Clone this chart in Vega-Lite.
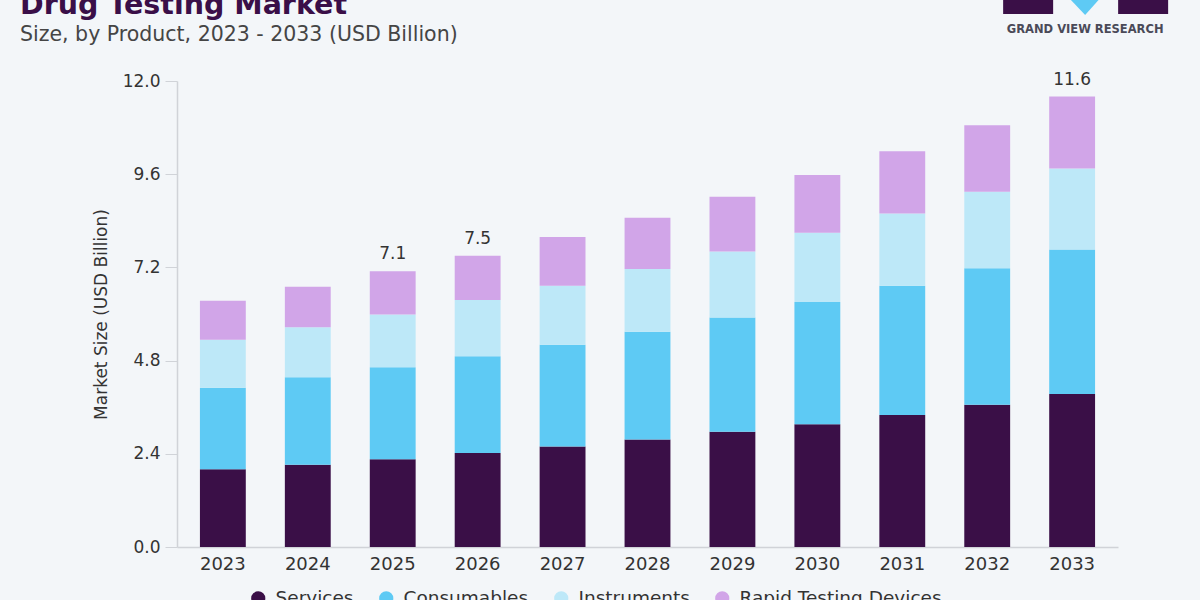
{
  "$schema": "https://vega.github.io/schema/vega-lite/v6.json",
  "width": 941,
  "height": 466,
  "autosize": {"type": "none"},
  "padding": {"left": 177, "top": 81, "right": 82, "bottom": 53},
  "background": "#f3f6f9",
  "title": {
    "text": "Drug Testing Market",
    "subtitle": "Size, by Product, 2023 - 2033 (USD Billion)",
    "anchor": "start",
    "frame": "group",
    "dx": -157,
    "offset": -56,
    "font": "DejaVu Sans",
    "fontSize": 28.5,
    "fontWeight": "bold",
    "color": "#3a0f48",
    "subtitleFont": "DejaVu Sans",
    "subtitleFontSize": 20.5,
    "subtitleColor": "#454545",
    "subtitlePadding": 6
  },
  "config": {
    "view": {"stroke": null},
    "font": "DejaVu Sans",
    "axis": {"grid": false, "labelFont": "DejaVu Sans", "titleFont": "DejaVu Sans"},
    "legend": {"labelFont": "DejaVu Sans"}
  },
  "data": {
    "values": [
      {"year": "2023", "product": "Services", "value": 2.00},
      {"year": "2023", "product": "Consumables", "value": 2.10},
      {"year": "2023", "product": "Instruments", "value": 1.24},
      {"year": "2023", "product": "Rapid Testing Devices", "value": 1.00},
      {"year": "2024", "product": "Services", "value": 2.12},
      {"year": "2024", "product": "Consumables", "value": 2.25},
      {"year": "2024", "product": "Instruments", "value": 1.29},
      {"year": "2024", "product": "Rapid Testing Devices", "value": 1.04},
      {"year": "2025", "product": "Services", "value": 2.26},
      {"year": "2025", "product": "Consumables", "value": 2.37},
      {"year": "2025", "product": "Instruments", "value": 1.36},
      {"year": "2025", "product": "Rapid Testing Devices", "value": 1.11},
      {"year": "2026", "product": "Services", "value": 2.42},
      {"year": "2026", "product": "Consumables", "value": 2.49},
      {"year": "2026", "product": "Instruments", "value": 1.45},
      {"year": "2026", "product": "Rapid Testing Devices", "value": 1.14},
      {"year": "2027", "product": "Services", "value": 2.59},
      {"year": "2027", "product": "Consumables", "value": 2.62},
      {"year": "2027", "product": "Instruments", "value": 1.52},
      {"year": "2027", "product": "Rapid Testing Devices", "value": 1.25},
      {"year": "2028", "product": "Services", "value": 2.77},
      {"year": "2028", "product": "Consumables", "value": 2.77},
      {"year": "2028", "product": "Instruments", "value": 1.62},
      {"year": "2028", "product": "Rapid Testing Devices", "value": 1.32},
      {"year": "2029", "product": "Services", "value": 2.97},
      {"year": "2029", "product": "Consumables", "value": 2.94},
      {"year": "2029", "product": "Instruments", "value": 1.70},
      {"year": "2029", "product": "Rapid Testing Devices", "value": 1.41},
      {"year": "2030", "product": "Services", "value": 3.16},
      {"year": "2030", "product": "Consumables", "value": 3.15},
      {"year": "2030", "product": "Instruments", "value": 1.78},
      {"year": "2030", "product": "Rapid Testing Devices", "value": 1.49},
      {"year": "2031", "product": "Services", "value": 3.40},
      {"year": "2031", "product": "Consumables", "value": 3.33},
      {"year": "2031", "product": "Instruments", "value": 1.86},
      {"year": "2031", "product": "Rapid Testing Devices", "value": 1.60},
      {"year": "2032", "product": "Services", "value": 3.66},
      {"year": "2032", "product": "Consumables", "value": 3.52},
      {"year": "2032", "product": "Instruments", "value": 1.97},
      {"year": "2032", "product": "Rapid Testing Devices", "value": 1.71},
      {"year": "2033", "product": "Services", "value": 3.94},
      {"year": "2033", "product": "Consumables", "value": 3.72},
      {"year": "2033", "product": "Instruments", "value": 2.09},
      {"year": "2033", "product": "Rapid Testing Devices", "value": 1.85}
    ]
  },
  "layer": [
    {
      "transform": [
        {
          "calculate": "indexof(['Services', 'Consumables', 'Instruments', 'Rapid Testing Devices'], datum.product)",
          "as": "stackOrder"
        }
      ],
      "mark": {"type": "bar"},
      "encoding": {
        "x": {
          "field": "year",
          "type": "ordinal",
          "title": null,
          "scale": {"type": "band", "paddingInner": 0.46, "paddingOuter": 0.27},
          "axis": {
            "labelAngle": 0,
            "labelFontSize": 18,
            "labelColor": "#333333",
            "labelPadding": 8,
            "ticks": false,
            "domainColor": "#d0d3d8",
            "domainWidth": 1.5
          }
        },
        "y": {
          "field": "value",
          "type": "quantitative",
          "stack": "zero",
          "title": "Market Size (USD Billion)",
          "scale": {"domain": [0, 12], "nice": false},
          "axis": {
            "values": [0, 2.4, 4.8, 7.2, 9.6, 12],
            "format": ".1f",
            "labelFontSize": 17,
            "labelColor": "#333333",
            "labelPadding": 5,
            "tickSize": 12,
            "tickColor": "#d0d3d8",
            "domainColor": "#d0d3d8",
            "domainWidth": 1.5,
            "titleFontSize": 17,
            "titleFontWeight": "normal",
            "titleColor": "#333333",
            "titlePadding": 12
          }
        },
        "order": {"field": "stackOrder", "type": "quantitative", "sort": "ascending"},
        "color": {
          "field": "product",
          "type": "nominal",
          "sort": ["Services", "Consumables", "Instruments", "Rapid Testing Devices"],
          "scale": {
            "domain": ["Services", "Consumables", "Instruments", "Rapid Testing Devices"],
            "range": ["#3a0f47", "#5ecaf4", "#bde8f8", "#d1a5e8"]
          },
          "legend": {
            "title": null,
            "orient": "none",
            "direction": "horizontal",
            "legendX": 72,
            "legendY": 508,
            "symbolType": "circle",
            "symbolSize": 200,
            "symbolStrokeWidth": 0,
            "symbolOpacity": 1,
            "labelFontSize": 18.5,
            "labelColor": "#333333",
            "labelOffset": 8,
            "columnPadding": 23,
            "labelLimit": 300
          }
        }
      }
    },
    {
      "transform": [
        {"aggregate": [{"op": "sum", "field": "value", "as": "total"}], "groupby": ["year"]},
        {"filter": {"field": "year", "oneOf": ["2025", "2026", "2033"]}}
      ],
      "mark": {"type": "text", "baseline": "bottom", "dy": -8, "fontSize": 17, "color": "#333333", "font": "DejaVu Sans"},
      "encoding": {
        "x": {"field": "year", "type": "ordinal", "title": null},
        "y": {"field": "total", "type": "quantitative", "title": "Market Size (USD Billion)"},
        "text": {"field": "total", "type": "quantitative", "format": ".1f"}
      }
    },
    {
      "data": {"values": [{"brand": "GRAND VIEW RESEARCH"}]},
      "mark": {"type": "text", "font": "DejaVu Sans", "fontWeight": "bold", "fontSize": 11.5, "color": "#4a4a58", "dx": 13, "baseline": "middle"},
      "encoding": {
        "x": {"datum": "2033", "type": "ordinal", "title": null},
        "y": {"datum": 13.31, "type": "quantitative", "title": "Market Size (USD Billion)"},
        "text": {"field": "brand", "type": "nominal"}
      }
    },
    {
      "data": {"values": [{"part": "blocks"}]},
      "mark": {
        "type": "point",
        "filled": true,
        "opacity": 1,
        "color": "#3a0f47",
        "size": 40000,
        "shape": "M-0.69,-0.18H-0.19V0.06H-0.69Z M0.46,-0.18H0.96V0.06H0.46Z"
      },
      "encoding": {
        "x": {"datum": "2033", "type": "ordinal", "title": null},
        "y": {"datum": 13.88, "type": "quantitative", "title": "Market Size (USD Billion)"}
      }
    },
    {
      "data": {"values": [{"part": "arrow"}]},
      "mark": {
        "type": "point",
        "filled": true,
        "opacity": 1,
        "color": "#5ecaf4",
        "size": 40000,
        "shape": "M-0.05,-0.12L0.30,-0.12L0.13,0.07Z"
      },
      "encoding": {
        "x": {"datum": "2033", "type": "ordinal", "title": null},
        "y": {"datum": 13.88, "type": "quantitative", "title": "Market Size (USD Billion)"}
      }
    }
  ]
}
